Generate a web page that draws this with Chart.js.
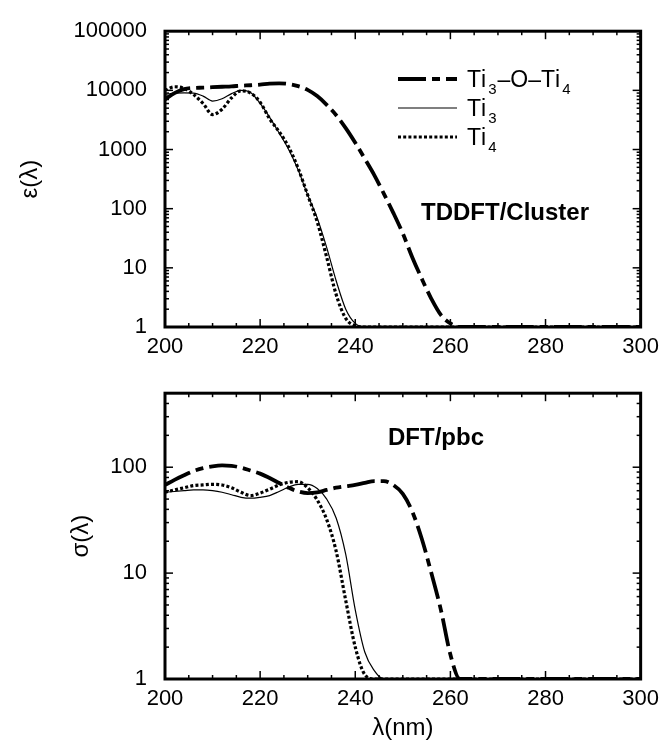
<!DOCTYPE html>
<html>
<head>
<meta charset="utf-8">
<script src="https://cdn.jsdelivr.net/npm/chart.js@4.4.0/dist/chart.umd.min.js"></script>
<style>
  html, body { margin: 0; padding: 0; background: #ffffff; }
  #wrap { position: relative; width: 666px; height: 743px; overflow: hidden; }
  canvas { position: absolute; left: 0; }
  #top { top: 0; }
  #bot { top: 362px; }
</style>
</head>
<body>
<div id="wrap">
  <canvas id="top" width="666" height="362"></canvas>
  <canvas id="bot" width="666" height="381"></canvas>
</div>
<script>
// Wavelength grid (nm)
const wavelength = [200,202,204,206,208,210,212,214,216,218,220,222,224,226,228,230,232,234,236,238,240,242,244,246,248,250,252,254,256,258,260,262,270,280,290,300];

// Series names (subscripts written with Unicode subscript digits)
const seriesNames = ['Ti₃–O–Ti₄', 'Ti₃', 'Ti₄'];

// TDDFT/Cluster: molar absorption coefficient ε(λ)
const epsTi3OTi4 = [7000,9000,10500,11000,11100,11300,11500,11700,12000,12200,12500,13000,13100,12800,11800,10200,8000,5700,3800,2300,1300,700,370,180,85,38,15,6.5,3,1.6,1.15,1,1,1,1,1];
const epsTi3     = [8500,9000,9100,9000,8000,6600,7200,8800,10000,9200,6000,3500,1900,1000,450,170,70,22,6,2,1.15,1,1,1,1,1,1,1,1,1,1,1,1,1,1,1];
const epsTi4     = [10000,11500,10800,8500,6000,3900,4800,7500,9800,9000,6300,3300,2000,1100,480,170,60,15,3.5,1.4,1.05,1,1,1,1,1,1,1,1,1,1,1,1,1,1,1];

// DFT/pbc: absorption cross-section σ(λ)
const sigTi3OTi4 = [68,76,84,92,98,102,104,103,99,93,87,79,71,64,59,57,58,61,64,66,68,71,74,74,68,56,38,21,10,4.5,1.7,1,1,1,1,1];
const sigTi3     = [58,59,60,61,61,60,58,55,52,51,52,54,59,65,69,69,63,50,33,15,4.5,1.8,1.2,1,1,1,1,1,1,1,1,1,1,1,1,1];
const sigTi4     = [58,61,64,67,68,69,68,64,58,54,57,62,68,72,73,64,49,32,16,5.5,2,1.1,1,1,1,1,1,1,1,1,1,1,1,1,1,1];

// Tick labels
const xTicks = [200, 220, 240, 260, 280, 300];
const epsTicks = [1, 10, 100, 1000, 10000, 100000];
const sigTicks = [1, 10, 100];

const FONT = "'Liberation Sans', Arial, Helvetica, sans-serif";
Chart.defaults.font.family = FONT;
Chart.defaults.color = '#000';

// Line styles: thick dash-dot, thin solid, thick dotted
const styles = [
  { borderWidth: 3.8, borderDash: [28, 6, 8, 6] },
  { borderWidth: 1.2, borderDash: [] },
  { borderWidth: 3.2, borderDash: [3, 2.2] }
];

function makeDatasets(seriesList) {
  return seriesList.map((vals, i) => ({
    label: seriesNames[i],
    data: vals.map((v, k) => ({ x: wavelength[k], y: v })),
    borderColor: '#000',
    borderWidth: styles[i].borderWidth,
    borderDash: styles[i].borderDash,
    borderCapStyle: 'butt',
    pointRadius: 0,
    fill: false,
    cubicInterpolationMode: 'monotone'
  }));
}

// Inward ticks on all four sides and a heavy frame
const frameTicks = {
  id: 'frameTicks',
  afterDatasetsDraw(chart) {
    const { ctx, chartArea: a, scales: { x, y } } = chart;
    ctx.save();
    ctx.strokeStyle = '#000';
    ctx.lineWidth = 1.5;
    ctx.setLineDash([]);
    const seg = (x1, y1, x2, y2) => { ctx.beginPath(); ctx.moveTo(x1, y1); ctx.lineTo(x2, y2); ctx.stroke(); };
    for (let v = x.min; v <= x.max; v += 5) {
      const px = x.getPixelForValue(v);
      const len = (v % 20 === 0) ? 8 : 4;
      seg(px, a.bottom, px, a.bottom - len);
      seg(px, a.top, px, a.top + len);
    }
    for (let d = 1; d <= y.max; d *= 10) {
      for (let m = 1; m <= 9; m++) {
        const v = d * m;
        if (v < y.min || v > y.max) continue;
        const py = y.getPixelForValue(v);
        const len = (m === 1) ? 8 : 4;
        seg(a.left, py, a.left + len, py);
        seg(a.right, py, a.right - len, py);
      }
    }
    ctx.lineWidth = 3;
    ctx.strokeRect(a.left, a.top, a.right - a.left, a.bottom - a.top);
    ctx.restore();
  }
};

// Text drawing with subscript digits
const SUBS = { '₀':'0','₁':'1','₂':'2','₃':'3','₄':'4','₅':'5','₆':'6','₇':'7','₈':'8','₉':'9' };
function drawRich(ctx, text, x, baseline, size) {
  let cx = x;
  for (const ch of text) {
    if (SUBS[ch]) {
      ctx.font = `${Math.round(size * 0.64)}px ${FONT}`;
      ctx.fillText(SUBS[ch], cx + 2, baseline + 7);
      cx += ctx.measureText(SUBS[ch]).width + 3;
    } else {
      ctx.font = `${size}px ${FONT}`;
      ctx.fillText(ch, cx, baseline);
      cx += ctx.measureText(ch).width;
    }
  }
}

const legendPlugin = {
  id: 'curveLegend',
  afterDraw(chart) {
    const { ctx } = chart;
    const rows = [79, 108, 137];
    ctx.save();
    ctx.fillStyle = '#000';
    ctx.strokeStyle = '#000';
    ctx.textBaseline = 'alphabetic';
    ctx.textAlign = 'left';
    chart.data.datasets.forEach((ds, i) => {
      const y = rows[i];
      ctx.lineWidth = ds.borderWidth;
      ctx.setLineDash(ds.borderDash);
      ctx.lineCap = 'butt';
      ctx.beginPath();
      ctx.moveTo(398, y);
      ctx.lineTo(457, y);
      ctx.stroke();
      ctx.setLineDash([]);
      drawRich(ctx, ds.label, 467, y + 8, 23);
    });
    ctx.restore();
  }
};

function labelPlugin(text, px, py) {
  return {
    id: 'panelLabel',
    afterDraw(chart) {
      const { ctx } = chart;
      ctx.save();
      ctx.fillStyle = '#000';
      ctx.font = `bold 24px ${FONT}`;
      ctx.textAlign = 'left';
      ctx.textBaseline = 'middle';
      ctx.fillText(text, px, py);
      ctx.restore();
    }
  };
}

function makeOptions(cfg) {
  return {
    responsive: false,
    animation: false,
    devicePixelRatio: 1,
    layout: { padding: { top: cfg.padTop, right: 21, left: 0, bottom: 0 } },
    plugins: { legend: { display: false }, tooltip: { enabled: false } },
    scales: {
      x: {
        type: 'linear',
        min: 200, max: 300,
        afterBuildTicks: s => { s.ticks = xTicks.map(v => ({ value: v })); },
        afterFit: s => { s.height = cfg.xHeight; },
        grid: { display: false, drawTicks: false },
        border: { display: false },
        ticks: { padding: 7, font: { size: 22 }, color: '#000', maxRotation: 0, autoSkip: false },
        title: cfg.xTitle ? { display: true, text: cfg.xTitle, font: { size: 24 }, color: '#000', padding: { top: 0, bottom: 0 } } : { display: false }
      },
      y: {
        type: 'logarithmic',
        min: cfg.yMin, max: cfg.yMax,
        afterBuildTicks: s => { s.ticks = cfg.yTicks.map(v => ({ value: v })); },
        afterFit: s => { s.width = 165; },
        grid: { display: false, drawTicks: false },
        border: { display: false },
        ticks: { padding: 18, font: { size: 22 }, color: '#000', autoSkip: false, callback: v => String(v) },
        title: { display: true, text: cfg.yTitle, font: { size: 24 }, color: '#000', padding: { top: cfg.yTitlePad, bottom: 0 } }
      }
    }
  };
}

new Chart(document.getElementById('top'), {
  type: 'line',
  data: { datasets: makeDatasets([epsTi3OTi4, epsTi3, epsTi4]) },
  options: makeOptions({ padTop: 25, xHeight: 35, yMin: 1, yMax: 100000, yTicks: epsTicks, yTitle: 'ε(λ)', yTitlePad: 16 }),
  plugins: [frameTicks, legendPlugin, labelPlugin('TDDFT/Cluster', 421, 213)]
});

new Chart(document.getElementById('bot'), {
  type: 'line',
  data: { datasets: makeDatasets([sigTi3OTi4, sigTi3, sigTi4]) },
  options: makeOptions({ padTop: 16, xHeight: 64, yMin: 1, yMax: 500, yTicks: sigTicks, yTitle: 'σ(λ)', yTitlePad: 67, xTitle: 'λ(nm)' }),
  plugins: [frameTicks, labelPlugin('DFT/pbc', 388, 76)]
});
</script>
</body>
</html>
